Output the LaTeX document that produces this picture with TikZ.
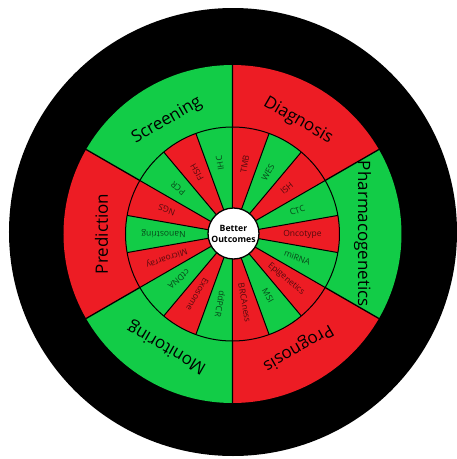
\documentclass[tikz,border=0pt]{standalone}
\usepackage{fontspec}
\setmainfont{Open Sans}
\definecolor{wheelred}{RGB}{237,28,36}
\definecolor{wheelgreen}{RGB}{18,204,71}
\tikzset{
  outerlab/.style={font=\fontsize{17}{20}\selectfont},
  innerlab/.style={font=\fontsize{8.5}{10}\selectfont,text opacity=.65},
  hub/.style={circle,draw,fill=white,line width=1.3pt,minimum size=51pt,inner sep=0pt,align=center,font=\bfseries\fontsize{8.7}{11}\selectfont}
}
\begin{document}
\begin{tikzpicture}[x=1pt,y=1pt]
        \useasboundingbox (-232.5,-225) rectangle (224.5,234);
        \fill[black] (0.5,2) circle (224);
        \fill[wheelgreen] (0,0) -- (90:169) arc[start angle=90,end angle=150,radius=169] -- cycle;
        \fill[wheelred] (0,0) -- (30:169) arc[start angle=30,end angle=90,radius=169] -- cycle;
        \fill[wheelgreen] (0,0) -- (-30:169) arc[start angle=-30,end angle=30,radius=169] -- cycle;
        \fill[wheelred] (0,0) -- (-90:169) arc[start angle=-90,end angle=-30,radius=169] -- cycle;
        \fill[wheelgreen] (0,0) -- (-150:169) arc[start angle=-150,end angle=-90,radius=169] -- cycle;
        \fill[wheelred] (0,0) -- (150:169) arc[start angle=150,end angle=210,radius=169] -- cycle;
        \fill[wheelred] (0,0) -- (70:107) arc[start angle=70,end angle=90,radius=107] -- cycle;
        \fill[wheelgreen] (0,0) -- (50:107) arc[start angle=50,end angle=70,radius=107] -- cycle;
        \fill[wheelred] (0,0) -- (30:107) arc[start angle=30,end angle=50,radius=107] -- cycle;
        \fill[wheelgreen] (0,0) -- (10:107) arc[start angle=10,end angle=30,radius=107] -- cycle;
        \fill[wheelred] (0,0) -- (-10:107) arc[start angle=-10,end angle=10,radius=107] -- cycle;
        \fill[wheelgreen] (0,0) -- (-30:107) arc[start angle=-30,end angle=-10,radius=107] -- cycle;
        \fill[wheelred] (0,0) -- (-50:107) arc[start angle=-50,end angle=-30,radius=107] -- cycle;
        \fill[wheelgreen] (0,0) -- (-70:107) arc[start angle=-70,end angle=-50,radius=107] -- cycle;
        \fill[wheelred] (0,0) -- (-90:107) arc[start angle=-90,end angle=-70,radius=107] -- cycle;
        \fill[wheelgreen] (0,0) -- (-110:107) arc[start angle=-110,end angle=-90,radius=107] -- cycle;
        \fill[wheelred] (0,0) -- (-130:107) arc[start angle=-130,end angle=-110,radius=107] -- cycle;
        \fill[wheelgreen] (0,0) -- (-150:107) arc[start angle=-150,end angle=-130,radius=107] -- cycle;
        \fill[wheelred] (0,0) -- (-170:107) arc[start angle=-170,end angle=-150,radius=107] -- cycle;
        \fill[wheelgreen] (0,0) -- (170:107) arc[start angle=170,end angle=190,radius=107] -- cycle;
        \fill[wheelred] (0,0) -- (150:107) arc[start angle=150,end angle=170,radius=107] -- cycle;
        \fill[wheelgreen] (0,0) -- (130:107) arc[start angle=130,end angle=150,radius=107] -- cycle;
        \fill[wheelred] (0,0) -- (110:107) arc[start angle=110,end angle=130,radius=107] -- cycle;
        \fill[wheelgreen] (0,0) -- (90:107) arc[start angle=90,end angle=110,radius=107] -- cycle;
        \draw[line width=1pt] (90:25) -- (90:107) (70:25) -- (70:107) (50:25) -- (50:107)
                (30:25) -- (30:107) (10:25) -- (10:107) (-10:25) -- (-10:107)
                (-30:25) -- (-30:107) (-50:25) -- (-50:107) (-70:25) -- (-70:107)
                (-90:25) -- (-90:107) (-110:25) -- (-110:107) (-130:25) -- (-130:107)
                (-150:25) -- (-150:107) (-170:25) -- (-170:107) (170:25) -- (170:107)
                (150:25) -- (150:107) (130:25) -- (130:107) (110:25) -- (110:107);
        \draw[line width=1.3pt] (90:107) -- (90:169) (30:107) -- (30:169) (-30:107) -- (-30:169)
                (-90:107) -- (-90:169) (-150:107) -- (-150:169) (150:107) -- (150:169);
        \draw[line width=1pt] (0,0) circle (107);
        \draw (1,0.5) node[hub] (outcomes) {Better\\Outcomes};
        \draw (120:131) node[outerlab,rotate=30] (screening) {Screening};
        \draw (60:131) node[outerlab,rotate=-30] (diagnosis) {Diagnosis};
        \draw (0:130) node[outerlab,rotate=-90] (pharma) {Pharmacogenetics};
        \draw (-60:131) node[outerlab,rotate=-150] (prognosis) {Prognosis};
        \draw (-120:131) node[outerlab,rotate=150] (monitoring) {Monitoring};
        \draw (180:131) node[outerlab,rotate=90] (prediction) {Prediction};
        \draw (80:71) node[innerlab,rotate=80] (tmb) {TMB};
        \draw (60:71) node[innerlab,rotate=60] (wes) {WES};
        \draw (40:71) node[innerlab,rotate=40] (ish) {ISH};
        \draw (20:69) node[innerlab,rotate=20] (ctc) {CTC};
        \draw (0:70) node[innerlab,rotate=0] (oncotype) {Oncotype};
        \draw (-20:69) node[innerlab,rotate=-20] (mirna) {miRNA};
        \draw (-40:70) node[innerlab,rotate=-40] (epigen) {Epigenetics};
        \draw (-60:71) node[innerlab,rotate=-60] (msi) {MSI};
        \draw (-80:70) node[innerlab,rotate=-80] (brca) {BRCAness};
        \draw (-100:71) node[innerlab,rotate=-100] (ddpcr) {ddPCR};
        \draw (-120:70) node[innerlab,rotate=-120] (exosome) {Exosome};
        \draw (-140:70) node[innerlab,rotate=-140] (ctdna) {ctDNA};
        \draw (-160:70) node[innerlab,rotate=-160] (microarray) {Microarray};
        \draw (180:69) node[innerlab,rotate=180] (nanostring) {Nanostring};
        \draw (160:70) node[innerlab,rotate=160] (ngs) {NGS};
        \draw (140:71) node[innerlab,rotate=140] (pcr) {PCR};
        \draw (120:71) node[innerlab,rotate=120] (fish) {FISH};
        \draw (100:72) node[innerlab,rotate=100] (ihc) {IHC};
\end{tikzpicture}
\end{document}
